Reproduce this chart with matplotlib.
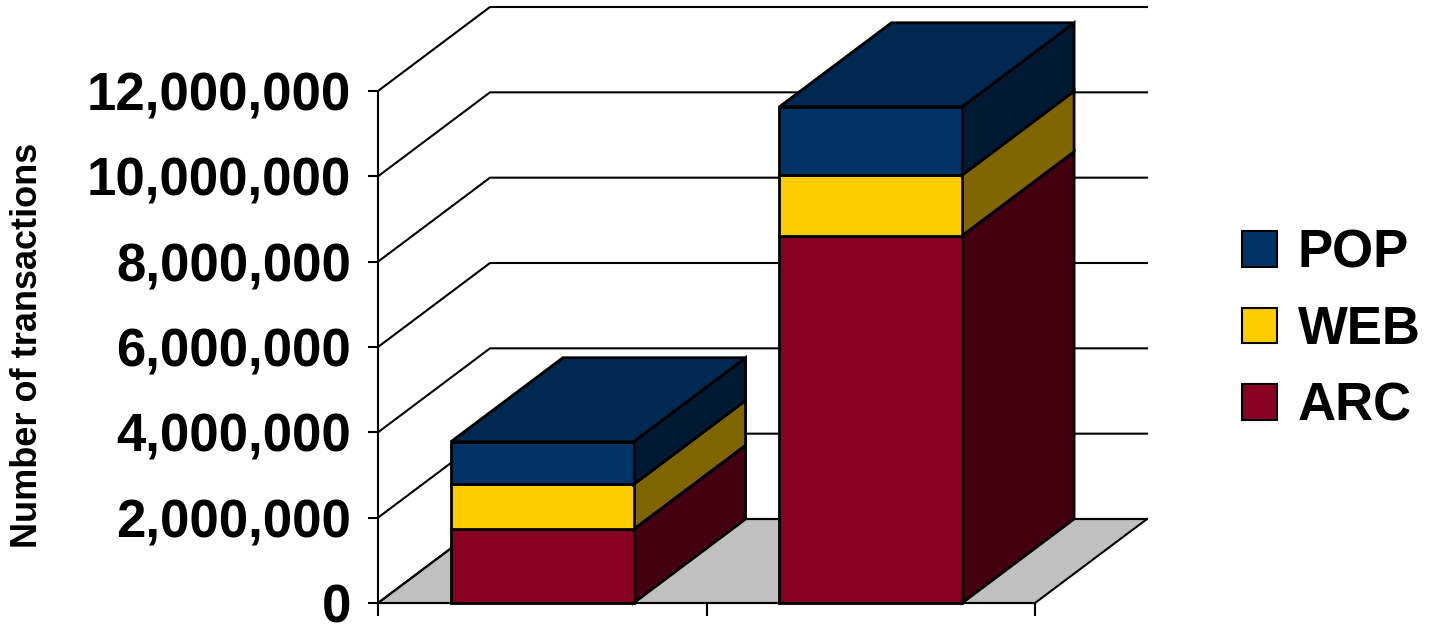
import matplotlib
matplotlib.use("Agg")
import matplotlib.pyplot as plt
from matplotlib.patches import Polygon, Patch

plt.rcParams['font.family'] = ['Liberation Sans', 'DejaVu Sans']

# Data
categories = ["Period 1", "Period 2"]
arc = [1.73e6, 8.61e6]
web = [1.05e6, 1.42e6]
pop = [1.00e6, 1.60e6]
series_names = ["ARC", "WEB", "POP"]
y_ticks = [0, 2e6, 4e6, 6e6, 8e6, 10e6, 12e6]

# Colours: front, side, top
colors = {
    "ARC": ("#880022", "#440011", "#6d001b"),
    "WEB": ("#ffcc00", "#806600", "#e6b800"),
    "POP": ("#003366", "#001a33", "#002850"),
}

# Layout (pixels of a 1433x625 canvas)
W, H = 1433, 625
zero_px = 22                 # y=0 on the front plane, from bottom
y_scale = 512 / 12e6         # px per transaction
x_left_px = 378
x_scale = 328.5              # px per category
DX = 112 / x_scale           # oblique depth offset in x units
DY = 84 / y_scale            # oblique depth offset in y units
BW = 0.556                   # bar width

ylo, yhi = -0.3e6, 14.1e6
xlo, xhi = -0.5, len(categories) - 0.5 + DX + 0.02

fig = plt.figure(figsize=(W / 100, H / 100), dpi=100)
ax = fig.add_axes([x_left_px / W, (zero_px + ylo * y_scale) / H,
                   (xhi - xlo) * x_scale / W, (yhi - ylo) * y_scale / H])
ax.set_xlim(xlo, xhi)
ax.set_ylim(ylo, yhi)
ax.patch.set_visible(False)

x0f, x1f = -0.5, len(categories) - 0.5

# floor
ax.add_patch(Polygon([(x0f, 0), (x1f, 0), (x1f + DX, DY), (x0f + DX, DY)],
                     closed=True, fc="#c0c0c0", ec="black", lw=1.5, zorder=1))

# wall gridlines
for v in y_ticks:
    ax.plot([x0f, x0f + DX, x1f + DX], [v, v + DY, v + DY],
            color="black", lw=1.5, zorder=1.5, solid_joinstyle="miter")

# stacked 3D bars
for i in range(len(categories)):
    bottom = 0
    for name, vals in zip(series_names, [arc, web, pop]):
        front_c, side_c, top_c = colors[name]
        b, t = bottom, bottom + vals[i]
        x0, x1 = i - BW / 2, i + BW / 2
        side = [(x1, b), (x1 + DX, b + DY), (x1 + DX, t + DY), (x1, t)]
        front = [(x0, b), (x1, b), (x1, t), (x0, t)]
        top = [(x0, t), (x1, t), (x1 + DX, t + DY), (x0 + DX, t + DY)]
        for pts, c in [(side, side_c), (front, front_c), (top, top_c)]:
            ax.add_patch(Polygon(pts, closed=True, fc=c, ec="black", lw=2,
                                 joinstyle="miter", zorder=3, clip_on=False))
        bottom = t

# axes
for s in ["top", "right"]:
    ax.spines[s].set_visible(False)
ax.spines["left"].set_bounds(0, 12e6)
ax.spines["left"].set_linewidth(1.5)
ax.spines["bottom"].set_position(("data", 0))
ax.spines["bottom"].set_bounds(x0f, x1f)
ax.spines["bottom"].set_linewidth(1.5)

ax.set_yticks(y_ticks, labels=[f"{v:,.0f}" for v in y_ticks])
ax.set_xticks([x0f + k for k in range(len(categories) + 1)], labels=[])
ax.tick_params(axis="y", direction="out", length=7.5, width=1.5, pad=12,
               labelsize=38)
ax.tick_params(axis="x", direction="out", length=9, width=1.5)
for lab in ax.get_yticklabels():
    lab.set_fontweight("bold")

fig.text(28 / W, 1 - 345 / H, "Number of transactions", rotation=90,
         ha="center", va="center", fontsize=26, fontweight="bold")

handles = [Patch(fc=colors[n][0], ec="black", lw=1.5, label=n)
           for n in reversed(series_names)]
fig.legend(handles=handles, loc="center left",
           bbox_to_anchor=(1242 / W, 1 - 330 / H), frameon=False,
           prop={"size": 38, "weight": "bold"}, handlelength=0.66,
           handleheight=0.66, handletextpad=0.4, labelspacing=0.5,
           borderpad=0, borderaxespad=0)

fig.savefig("out.png", dpi=100)
